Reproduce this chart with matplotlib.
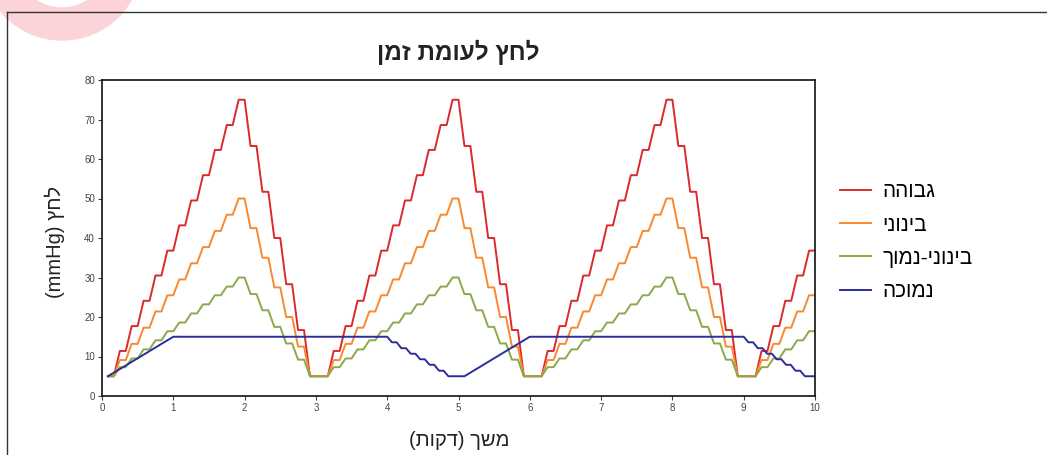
import re
import numpy as np
import matplotlib.pyplot as plt
from matplotlib.patches import Wedge
from matplotlib.lines import Line2D

plt.rcParams['font.family'] = ['Liberation Sans', 'DejaVu Sans']

# samples every 5 seconds (1/12 min), pumps repeat every 3 min
n = np.arange(1, 121)
t = n / 12

# one 3-minute cycle, index = sample number mod 36
red_cycle = [5, 5, 5, 11.4, 11.4, 17.7, 17.7, 24.1, 24.1, 30.5, 30.5, 36.8,
             36.8, 43.2, 43.2, 49.5, 49.5, 55.9, 55.9, 62.3, 62.3, 68.6, 68.6, 75,
             75, 63.3, 63.3, 51.7, 51.7, 40, 40, 28.3, 28.3, 16.7, 16.7, 5]
orange_cycle = [5, 5, 5, 9.1, 9.1, 13.2, 13.2, 17.3, 17.3, 21.4, 21.4, 25.5,
                25.5, 29.5, 29.5, 33.6, 33.6, 37.7, 37.7, 41.8, 41.8, 45.9, 45.9, 50,
                50, 42.5, 42.5, 35, 35, 27.5, 27.5, 20, 20, 12.5, 12.5, 5]
green_cycle = [5, 5, 5, 7.3, 7.3, 9.5, 9.5, 11.8, 11.8, 14.1, 14.1, 16.4,
               16.4, 18.6, 18.6, 20.9, 20.9, 23.2, 23.2, 25.5, 25.5, 27.7, 27.7, 30,
               30, 25.8, 25.8, 21.7, 21.7, 17.5, 17.5, 13.3, 13.3, 9.2, 9.2, 5]

# low pump: 5-minute cycle, break points (min, mmHg)
blue_t = [0.083, 1.0, 4.0, 4.066, 4.132, 4.198, 4.264, 4.33, 4.396, 4.462, 4.528,
          4.594, 4.66, 4.726, 4.792, 4.858, 5.0]
blue_v = [5, 15, 15, 13.6, 13.6, 12.1, 12.1, 10.7, 10.7, 9.3, 9.3,
          7.9, 7.9, 6.4, 6.4, 5, 5]

labels = ['גבוהה', 'בינוני', 'בינוני-נמוך', 'נמוכה']
colors = ['#dc2a2a', '#f7892f', '#8aa94b', '#2d2d9c']

red = np.array(red_cycle)[n % 36]
orange = np.array(orange_cycle)[n % 36]
green = np.array(green_cycle)[n % 36]
bt = np.concatenate([blue_t, np.array(blue_t) + 5])
bv = np.concatenate([blue_v, blue_v])


def rtl(s):
    # visual order for hebrew text, latin runs kept left to right
    v = s[::-1].translate(str.maketrans('()', ')('))
    return re.sub(r'[A-Za-z0-9]+', lambda m: m.group(0)[::-1], v)


W, H = 1047, 455
fig = plt.figure(figsize=(W / 100, H / 100), dpi=100)
ax = fig.add_axes([102 / W, 1 - 396 / H, (815 - 102) / W, (396 - 80) / H])

lines = []
for y, x, c in [(red, t, colors[0]), (orange, t, colors[1]), (green, t, colors[2]), (bv, bt, colors[3])]:
    l, = ax.plot(x, y, color=c, lw=1.4)
    lines.append(l)

ax.set_xlim(0, 10)
ax.set_ylim(0, 80)
ax.set_xticks(range(0, 11))
ax.set_yticks(range(0, 81, 10))
ax.tick_params(labelsize=7, colors='#444', length=3, width=0.8, pad=2)
for lab in ax.get_xticklabels() + ax.get_yticklabels():
    lab.set_fontfamily(['Liberation Sans Narrow', 'Liberation Sans'])
for sp in ax.spines.values():
    sp.set_linewidth(1.2)
    sp.set_color('#111')

fig.text(458 / W, 1 - 52 / H, rtl('לחץ לעומת זמן'), ha='center', va='center',
         fontsize=17.5, fontweight='bold', color='#222')
fig.text(55 / W, 1 - 242 / H, rtl('לחץ (mmHg)'), ha='center', va='center',
         rotation=90, fontsize=14.5, color='#222')
fig.text(459 / W, 1 - 440 / H, rtl('משך (דקות)'), ha='center', va='center',
         fontsize=14.5, color='#222')

fig.legend(lines, [rtl(s) for s in labels], loc='upper left',
           bbox_to_anchor=(830 / W, 1 - 172 / H), frameon=False, fontsize=15,
           borderpad=0, handlelength=1.45, handletextpad=0.55, labelspacing=0.68)

# page decoration: frame lines and pink ring in the corner
fig.add_artist(Line2D([7 / W, 1], [1 - 12 / H, 1 - 12 / H], color='#333', lw=1))
fig.add_artist(Line2D([7 / W, 7 / W], [0, 1 - 12 / H], color='#333', lw=1))
fig.add_artist(Wedge((0.62, (H + 40) / 100), 0.8, 180, 360, width=0.32,
                     transform=fig.dpi_scale_trans, color='#fcd3d8', zorder=-1))

fig.savefig('out.png', dpi=100)
